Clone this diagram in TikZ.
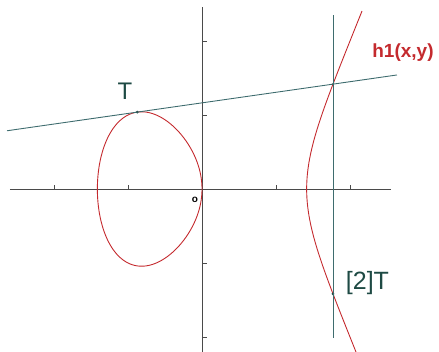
\documentclass[tikz,border=0pt]{standalone}
\usepackage{fontspec}
\setmainfont{Liberation Sans}
\definecolor{curvered}{HTML}{C42A2E}
\definecolor{lineteal}{HTML}{3E6C6E}
\definecolor{labteal}{HTML}{1E4A44}
\definecolor{axisgray}{HTML}{4A4A4A}
\tikzset{
  axisline/.style={draw=axisgray, line width=0.9pt},
  tickmark/.style={draw=axisgray, line width=0.8pt},
  curveline/.style={draw=curvered, line width=0.9pt},
  secline/.style={draw=lineteal, line width=0.9pt},
  ptdot/.style={circle, fill=labteal, inner sep=0pt, minimum size=3pt},
  biglabel/.style={text=labteal, font=\fontsize{24}{28}\selectfont, inner sep=0pt},
}
\begin{document}
\begin{tikzpicture}
\useasboundingbox (0,0) rectangle (439pt,351pt);
\begin{scope}[shift={(202pt,162pt)}, x=74pt, y=74pt]
  % axes
  \coordinate (xl) at (-2.595,0);
  \coordinate (xr) at (2.554,0);
  \coordinate (yt) at (0,2.459);
  \coordinate (yb) at (0,-2.2);
  \draw[axisline] (xl) -- (xr);
  \draw[axisline] (yt) -- (yb);
  \foreach \k in {-2,-1,1,2} {
    \draw[tickmark] (\k,0) -- ++(0,4pt);
    \draw[tickmark] (0,\k) -- ++(5pt,0);
  }
  \node[font=\fontsize{10}{12}\selectfont\bfseries, inner sep=0pt] (O) at (-0.095,-0.15) {o};
  % curve y^2 = x^3 - 2x
  \draw[curveline, variable=\t, samples=160, domain=0:360, smooth]
    plot ({-sqrt(2)*cos(\t/2)^2}, {1.681793*sin(\t)/2*sqrt(1+cos(\t/2)^2)}) -- cycle;
  \draw[curveline, variable=\t, samples=80, domain=-0.83:0.866, smooth]
    plot ({sqrt(2)+\t*\t}, {\t*sqrt((sqrt(2)+\t*\t)*(2*sqrt(2)+\t*\t))});
  % points
  \node[ptdot] (T) at (-0.875,1.039) {};
  \node[ptdot, minimum size=2pt] (P) at (1.770,1.417) {};
  \node[ptdot] (T2) at (1.770,-1.417) {};
  % tangent line and vertical line
  \coordinate (tl) at (-2.635,0.787);
  \coordinate (tr) at (2.635,1.541);
  \draw[secline] (tl) -- (T.center) -- (P.center) -- (tr);
  \coordinate (vt) at (1.770,2.351);
  \coordinate (vb) at (1.770,-2.014);
  \draw[secline] (vt) -- (P.center) -- (T2.center) -- (vb);
  % labels
  \node[biglabel] (Tlab) at (-1.04,1.324) {T};
  \node[biglabel, font=\fontsize{25}{29}\selectfont] (T2lab) at (2.236,-1.27) {[2]T};
  \node[text=curvered, font=\fontsize{19}{22}\selectfont\bfseries, inner sep=0pt] (hlab) at (2.716,1.838) {h1(x,y)};
\end{scope}
\end{tikzpicture}
\end{document}
